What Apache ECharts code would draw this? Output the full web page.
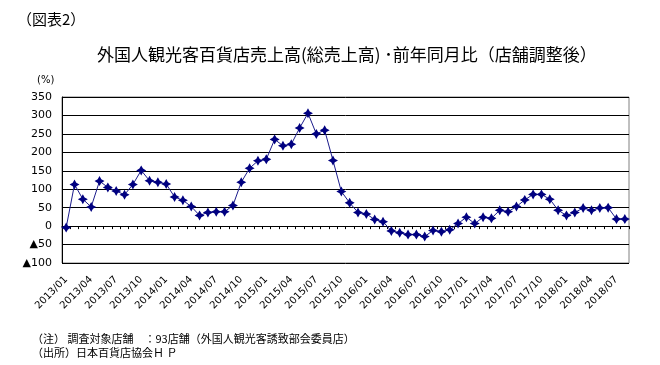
<!DOCTYPE html>
<html><head><meta charset="utf-8">
<script src="https://cdn.jsdelivr.net/npm/echarts@6/dist/echarts.min.js"></script>
<style>html,body{margin:0;padding:0;background:#fff}#c{width:660px;height:365px}</style>
</head><body><div id="c"></div>
<script>
const categories = [];
const years = [2013, 2014, 2015, 2016, 2017, 2018];
for (const y of years) { for (let m = 1; m <= 12; m++) { if (y === 2018 && m > 8) break; categories.push(y + '/' + (m < 10 ? '0' + m : m)); } }
const values = [-4,113,73,52,122,105,95,85,113,151,
  123,119,114,79,70,53,29,37,39,39,
  56,119,157,177,181,235,218,222,266,306,
  250,260,178,94,63,37,33,18,12,-13,
  -18,-23,-23,-28,-12,-15,-10,7,24,7,
  24,21,43,39,53,71,86,86,73,43,
  29,37,49,43,49,50,19,19];
const yMin = -100, yMax = 350, yStep = 50;

const chart = echarts.init(document.getElementById('c'));
const jp = '"Noto Sans CJK JP", sans-serif';
const num = '"DejaVu Sans", sans-serif';
chart.setOption({
  animation: false,
  backgroundColor: '#fff',
  title: [
    {text: '（図表2）', left: 12, top: 7, textStyle: {fontFamily: jp, fontSize: 15, fontWeight: 'normal', color: '#000'}},
    {text: '外国人観光客百貨店売上高(総売上高) ･前年同月比（店舗調整後）', left: 92, top: 41, textStyle: {fontFamily: jp, fontSize: 17, fontWeight: 'normal', color: '#000'}},
    {text: '(%)', left: 32, top: 70, textStyle: {fontFamily: num, fontSize: 10, fontWeight: 'normal', color: '#000'}},
    {text: '（注） 調査対象店舗　：93店舗（外国人観光客誘致部会委員店）\n（出所）日本百貨店協会Ｈ Ｐ', left: 27, top: 327, textStyle: {fontFamily: jp, fontSize: 11, fontWeight: 'normal', color: '#000', lineHeight: 14}}
  ],
  grid: {left: 62, right: 31, top: 97, bottom: 102, show: true, borderColor: '#808080', borderWidth: 1},
  xAxis: [
    {type: 'category', data: categories, position: 'bottom', boundaryGap: true,
      axisLine: {show: false, onZero: false}, axisTick: {show: false},
      axisLabel: {interval: 2, rotate: 45, fontFamily: num, fontSize: 10, color: '#000', margin: 15},
      splitLine: {show: false}},
    {type: 'category', data: categories, position: 'bottom', boundaryGap: true,
      axisLine: {show: true, onZero: true, lineStyle: {color: '#000', width: 1}},
      axisTick: {show: true, interval: 0, length: 3, lineStyle: {color: '#000'}},
      axisLabel: {show: false}, splitLine: {show: false}}
  ],
  yAxis: {type: 'value', min: yMin, max: yMax, interval: yStep,
    axisLine: {show: true, lineStyle: {color: '#000'}}, axisTick: {show: false},
    axisLabel: {fontFamily: num, fontSize: 11, color: '#000', margin: 10,
      formatter: v => v < 0 ? '▲' + (-v) : String(v)},
    splitLine: {show: true, lineStyle: {color: '#000', width: 1}}},
  series: [{
    type: 'line', data: values, xAxisIndex: 0,
    lineStyle: {color: '#1c1c8c', width: 1},
    itemStyle: {color: '#000080'},
    symbol: 'path://M0,-5 L1.8,-1.8 L5,0 L1.8,1.8 L0,5 L-1.8,1.8 L-5,0 L-1.8,-1.8 Z',
    symbolSize: 10, showSymbol: true, showAllSymbol: true
  }]
});
</script></body></html>
